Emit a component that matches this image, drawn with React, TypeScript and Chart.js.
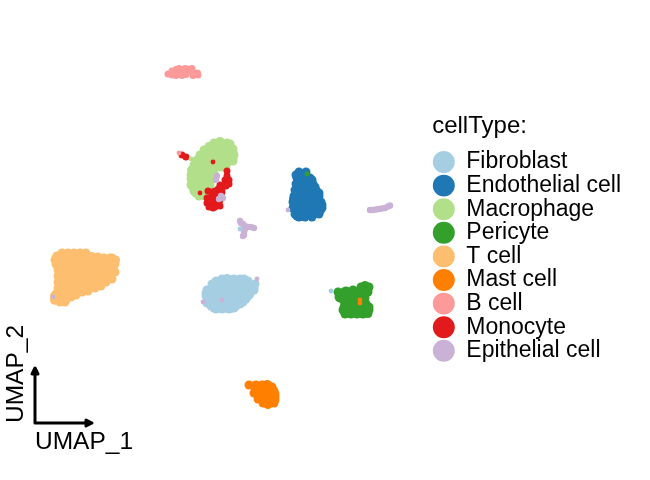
import React, { useEffect, useRef } from "react";
import { Chart, registerables } from "chart.js";

Chart.register(...registerables);

const cellTypes = ["Fibroblast", "Endothelial cell", "Macrophage", "Pericyte", "T cell", "Mast cell", "B cell", "Monocyte", "Epithelial cell"];
const palette = ["#A6CEE3", "#1F78B4", "#B2DF8A", "#33A02C", "#FDBF6F", "#FF7F00", "#FB9A99", "#E31A1C", "#CAB2D6"];

const fibroblast = [
  [22.2,27.9],[22.8,27.9],[23.4,27.9],[24.0,27.9],[24.4,27.9],
  [21.2,28.4],[21.8,28.4],[22.4,28.4],[23.0,28.4],[23.6,28.4],[24.2,28.4],[24.8,28.4],[25.5,28.4],
  [20.7,29.0],[21.3,29.0],[21.9,29.0],[22.5,29.0],[23.1,29.0],[23.7,29.0],[24.3,29.0],[24.9,29.0],[25.4,29.0],
  [20.6,29.6],[21.2,29.6],[21.8,29.6],[22.4,29.6],[23.0,29.6],[23.6,29.6],[24.2,29.6],[24.8,29.6],
  [20.8,30.2],[21.4,30.2],[22.0,30.2],[22.6,30.2],[23.2,30.2],[23.8,30.2],[24.3,30.2],
  [21.4,30.8],[22.0,30.8],[22.6,30.8],[23.2,30.8],[23.4,30.8],
  [21.6,28.1],[22.7,27.85],[24.8,28.1],[25.4,28.8],[25.0,29.4],[24.6,29.9],[24.0,30.4],[23.6,30.6],
  [22.9,30.9],[22.2,30.9],[21.6,30.9],[21.1,30.6],[20.7,30.3],[20.6,29.3],
];
const endothelial = [
  [29.9,17.2],[30.6,17.2],
  [29.7,17.8],[30.3,17.8],[31.0,17.8],
  [29.6,18.4],[30.2,18.4],[30.8,18.4],[31.3,18.4],
  [29.5,19.0],[30.1,19.0],[30.7,19.0],[31.6,19.0],[31.2,19.0],
  [29.4,19.6],[30.0,19.6],[30.6,19.6],[31.2,19.6],[31.9,19.6],
  [29.3,20.2],[29.9,20.2],[30.5,20.2],[31.1,20.2],[31.7,20.2],[32.1,20.2],
  [29.3,20.8],[29.9,20.8],[30.5,20.8],[31.1,20.8],[31.7,20.8],[32.2,20.8],
  [29.5,21.4],[30.1,21.4],[30.7,21.4],[31.3,21.4],[31.9,21.4],
  [29.9,21.7],[30.5,21.7],[31.2,21.7],
  [29.6,17.5],[31.2,18.0],[31.5,18.7],[31.9,19.3],[29.35,19.9],[29.4,20.5],[32.2,20.5],[32.0,21.1],[29.7,21.6],
];
const macrophage = [
  [21.4,14.3],[22.0,14.3],[22.7,14.3],
  [20.8,14.9],[21.4,14.9],[22.0,14.9],[22.6,14.9],[23.3,14.9],
  [20.3,15.5],[20.9,15.5],[21.5,15.5],[22.1,15.5],[22.7,15.5],[23.4,15.5],
  [19.9,16.1],[20.5,16.1],[21.1,16.1],[21.7,16.1],[22.3,16.1],[22.9,16.1],[23.3,16.1],
  [19.7,16.7],[20.3,16.7],[20.9,16.7],[21.5,16.7],[22.1,16.7],[22.6,16.6],
  [19.2,17.3],[19.8,17.3],[20.4,17.3],[21.0,17.3],[21.4,17.3],
  [19.1,17.9],[19.7,17.9],[20.3,17.9],[20.9,17.9],[21.2,17.9],
  [19.1,18.5],[19.7,18.5],[20.3,18.5],[20.8,18.5],
  [19.4,19.1],[20.0,19.1],[20.6,19.1],
  [19.9,19.6],[20.5,19.6],
  [20.9,14.65],[20.4,15.0],[20.0,15.5],[19.7,16.0],[19.4,16.5],[19.15,17.0],[19.1,17.5],[19.2,18.1],[19.3,18.7],[19.6,19.3],
  [22.0,14.15],[23.0,14.4],[23.3,15.2],[23.3,15.9],[21.5,17.7],[21.0,18.5],
];
const pericyte = [
  [36.1,28.7],[36.9,28.7],[36.5,28.55],[36.8,28.9],
  [33.8,29.2],[34.4,29.2],[35.0,29.2],[35.6,29.2],[36.2,29.2],[36.8,29.2],
  [34.6,29.1],[35.3,29.0],
  [34.0,29.8],[34.6,29.8],[35.2,29.8],[35.8,29.8],[36.5,29.8],[33.9,29.7],[34.4,30.1],
  [34.8,30.4],[35.4,30.4],[36.0,30.4],[36.6,30.4],[36.5,30.2],
  [34.4,30.7],[34.9,30.7],[36.6,30.6],[36.9,30.7],
  [34.3,31.0],[34.9,31.0],[35.5,31.0],[36.1,31.0],[36.9,31.0],
  [34.5,31.4],[35.1,31.4],[35.7,31.4],[36.3,31.4],[36.8,31.35],
];
const tCell = [
  [6.2,25.3],[6.8,25.3],[7.4,25.3],[8.0,25.3],[8.6,25.3],
  [5.6,25.8],[6.2,25.8],[6.8,25.8],[7.4,25.8],[8.0,25.8],[8.6,25.8],[9.2,25.8],[9.8,25.8],[10.4,25.8],[11.0,25.8],
  [5.6,26.4],[6.2,26.4],[6.8,26.4],[7.4,26.4],[8.0,26.4],[8.6,26.4],[9.2,26.4],[9.8,26.4],[10.4,26.4],[11.0,26.4],[11.5,26.4],
  [5.8,27.0],[6.4,27.0],[7.0,27.0],[7.6,27.0],[8.2,27.0],[8.8,27.0],[9.4,27.0],[10.0,27.0],[10.6,27.0],[11.3,27.0],
  [5.8,27.6],[6.4,27.6],[7.0,27.6],[7.6,27.6],[8.2,27.6],[8.8,27.6],[9.4,27.6],[10.0,27.6],[10.6,27.6],[11.1,27.6],
  [5.8,28.2],[6.4,28.2],[7.0,28.2],[7.6,28.2],[8.2,28.2],[8.8,28.2],[9.4,28.2],[10.0,28.2],
  [5.8,28.8],[6.4,28.8],[7.0,28.8],[7.6,28.8],[8.2,28.8],[8.9,28.8],
  [5.6,29.4],[6.2,29.4],[6.8,29.4],[7.5,29.4],
  [5.5,30.0],[6.1,30.0],[6.6,30.0],
  [6.0,30.2],[6.5,30.2],
  [11.5,27.2],[11.2,27.9],[10.6,28.2],[10.1,28.6],[9.5,28.8],[8.8,29.1],[8.2,29.2],[7.6,29.5],[7.1,29.7],
  [5.5,26.0],[5.7,25.6],[9.2,25.65],[9.8,25.7],[11.2,25.8],[11.55,26.0],[5.45,29.6],[5.45,30.0],
];
const mast = [
  [24.9,38.5],[25.6,38.5],[26.2,38.5],[26.8,38.5],
  [25.6,39.1],[26.2,39.1],[26.8,39.1],[27.4,39.1],
  [25.9,39.7],[26.5,39.7],[27.1,39.7],[27.5,39.7],
  [26.5,40.3],[27.1,40.3],[27.4,40.3],
  [25.4,39.3],[25.8,39.9],[26.3,40.3],[26.8,40.45],[27.5,40.0],[27.5,39.4],[27.2,38.7],[26.7,38.45],[25.4,38.6],
];
const bCell = [
  [16.8,7.4],[17.3,7.3],[17.8,7.2],[18.3,7.2],[18.8,7.2],[19.3,7.2],[19.7,7.4],
  [17.6,6.95],[18.2,6.95],[18.7,6.9],[19.1,6.9],
  [17.4,7.4],[18.0,7.45],[18.6,7.45],[19.3,7.55],
  [17.2,7.1],[17.2,7.5],[17.9,6.85],[18.5,6.85],[19.2,6.85],[19.75,7.3],[19.8,7.5],[18.2,7.55],[17.6,7.55],
];
const monocyte = [
  [22.7,17.1],[22.7,17.6],[22.9,18.0],[22.5,18.0],[22.9,18.4],[22.4,18.5],[22.0,18.5],[22.6,18.6],
  [22.2,18.8],[21.8,18.9],[21.5,19.1],[22.2,19.2],[21.2,19.5],[21.8,19.5],
  [20.8,19.1],[21.2,19.2],
  [20.7,19.8],[21.3,19.9],[21.9,19.9],[20.7,20.3],[21.3,20.3],[21.9,20.3],[22.0,20.0],
  [20.9,20.7],[21.5,20.7],[22.0,20.6],[21.3,20.8],
  [18.2,15.5],[18.6,15.7],
];
const epithelial = [
  [37.0,21.0],[37.3,21.0],[37.6,20.95],[37.9,20.9],[38.2,20.85],[38.5,20.8],[38.8,20.65],[39.0,20.55],
  [24.0,22.1],[24.1,22.3],[24.3,22.4],[24.5,22.6],[24.8,22.7],[25.1,22.7],[25.4,22.8],[24.5,22.9],[24.4,23.2],[24.4,23.5],[24.3,23.6],
  [21.7,17.6],[21.6,18.0],[22.1,19.6],[22.3,19.8],[21.9,19.9],
];
const pinkSpecks = [[17.9,15.3]];
const skySpecks = [[33.1,29.1],[24.0,22.9]];
const limeSpecks = [[19.1,15.9]];
const greenSpecks = [[30.7,17.4]];
const orangeSpecks = [[36.0,30.0],[36.0,30.3]];
const redSpecks = [[21.3,16.2],[20.0,19.3]];
const lilacSpecks = [[5.3,29.7],[25.7,27.9],[20.3,30.2],[22.2,30.0],[28.8,21.0]];
const axisArrows = [[8.6,42.0],[9.2,42.3],[8.6,42.6],[8.6,42.0],[9.2,42.3],[3.5,42.3],[3.5,36.8],[3.2,37.4],[3.8,37.4],[3.5,36.8]];

const xAxisName = "UMAP_1";
const yAxisName = "UMAP_2";
const legendName = "cellType:";

const toPoints = (list: number[][]) => list.map(([x, y]) => ({ x, y }));
const clusters = [fibroblast, endothelial, macrophage, pericyte, tCell, mast, bCell, monocyte, epithelial];
const clusterRadii = [4.5, 4.5, 4.5, 4.5, 4.5, 4.5, 3.5, 3.5, 3.2];
const specks: [number[][], string][] = [
  [pinkSpecks, palette[6]], [skySpecks, palette[0]], [limeSpecks, palette[2]], [greenSpecks, palette[3]],
  [orangeSpecks, palette[5]], [redSpecks, palette[7]], [lilacSpecks, palette[8]],
];

const axisText = {
  id: "axisText",
  afterDraw(chart: any) {
    const { ctx, scales } = chart;
    ctx.save();
    ctx.fillStyle = "#000";
    ctx.font = '24.5px "Liberation Sans"';
    ctx.textBaseline = "alphabetic";
    ctx.textAlign = "left";
    ctx.fillText(xAxisName, scales.x.getPixelForValue(3.5), scales.y.getPixelForValue(44.9));
    ctx.translate(scales.x.getPixelForValue(2.3), scales.y.getPixelForValue(42.3));
    ctx.rotate(-Math.PI / 2);
    ctx.fillText(yAxisName, 0, 0);
    ctx.restore();
  },
};

export default function App() {
  const ref = useRef<HTMLCanvasElement>(null);
  useEffect(() => {
    const datasets: any[] = clusters.map((list, i) => ({
      label: cellTypes[i],
      data: toPoints(list),
      backgroundColor: palette[i],
      borderColor: palette[i],
      pointRadius: clusterRadii[i],
      pointBorderWidth: 0,
      pointStyle: "circle",
      order: 30 - i,
    }));
    specks.forEach(([list, color], i) => {
      datasets.push({
        label: "",
        data: toPoints(list),
        backgroundColor: color,
        borderColor: color,
        pointRadius: 2.4,
        pointBorderWidth: 0,
        order: 10 - i,
      });
    });
    datasets.push({
      label: "",
      data: toPoints(axisArrows),
      showLine: true,
      borderColor: "#000",
      backgroundColor: "#000",
      borderWidth: 3,
      pointRadius: 0,
      borderJoinStyle: "round",
      order: 0,
    });
    const chart = new Chart(ref.current!, {
      type: "scatter",
      data: { datasets },
      plugins: [axisText],
      options: {
        animation: false,
        responsive: false,
        layout: { autoPadding: false, padding: { right: 19, bottom: 3 } },
        scales: {
          x: { display: false, min: 0, max: 43 },
          y: { display: false, min: 0, max: 47.7, reverse: true },
        },
        plugins: {
          tooltip: { enabled: false },
          legend: {
            position: "right",
            align: "center",
            title: {
              display: true,
              text: legendName,
              position: "start",
              color: "#000",
              font: { family: '"Liberation Sans"', size: 24 },
              padding: { top: 0, bottom: 7 },
            },
            labels: {
              color: "#000",
              font: { family: '"Liberation Sans"', size: 23 },
              usePointStyle: true,
              pointStyle: "circle",
              boxHeight: 15.5,
              pointStyleWidth: 22,
              padding: 0.6,
              filter: (item: any) => item.text !== "",
              sort: (a: any, b: any) => a.datasetIndex - b.datasetIndex,
            },
          },
        },
      } as any,
    });
    const o: any = chart.options.scales;
    o.x.max = chart.chartArea.width / 10;
    o.y.max = chart.chartArea.height / 10;
    chart.update();
    return () => chart.destroy();
  }, []);
  return (
    <div style={{ position: "absolute", left: 0, top: 0, width: 650, height: 480 }}>
      <canvas ref={ref} width={650} height={480} style={{ display: "block" }} />
    </div>
  );
}
